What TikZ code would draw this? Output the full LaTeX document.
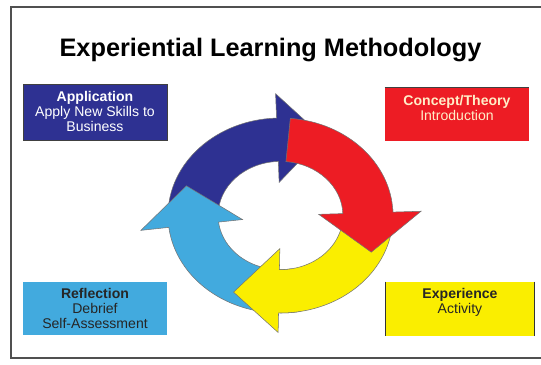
\documentclass[tikz,border=0pt]{standalone}
\usepackage{fontspec}
\setmainfont{Liberation Sans}
\usetikzlibrary{positioning}

\definecolor{appblue}{RGB}{46,49,146}
\definecolor{conceptred}{RGB}{237,28,36}
\definecolor{reflectblue}{RGB}{66,170,222}
\definecolor{expyellow}{RGB}{250,238,0}
\definecolor{cream}{RGB}{255,238,200}
\definecolor{framegray}{RGB}{80,80,80}

\begin{document}
\begin{tikzpicture}[
  box/.style={rectangle, minimum width=2.88cm, minimum height=1.06cm, inner sep=0pt},
  boxtext/.style={align=center, inner sep=0pt, font=\fontsize{8}{8.6}\selectfont},
  ring/.style={draw=black!55, line width=0.3pt}
]
\useasboundingbox (0,0) rectangle (10.82,7.30);
% frame
\draw[framegray, line width=0.9pt] (10.82,7.16) -- (0.22,7.16) -- (0.22,0.14) -- (10.82,0.14);

% title
\node[anchor=base, font=\bfseries\fontsize{14.4}{17}\selectfont] (title) at (5.41,6.17) {Experiential Learning Methodology};

% cycle arrows
\begin{scope}[shift={(5.61,2.99)}, xscale=2.25, yscale=1.95]
\filldraw[ring, fill=appblue] (180:1) arc[start angle=180, end angle=92, radius=1] -- (92:1.25) -- (65:0.89) -- (92:0.34) -- (92:0.555) arc[start angle=92, end angle=180, radius=0.555] -- cycle;
\filldraw[ring, fill=reflectblue] (-80:1) arc[start angle=-80, end angle=-173, radius=1] -- (-173:1.25) -- (-200:0.89) -- (-173:0.34) -- (-173:0.555) arc[start angle=-173, end angle=-80, radius=0.555] -- cycle;
\filldraw[ring, fill=expyellow] (4:1) arc[start angle=4, end angle=-91, radius=1] -- (-91:1.2) -- (-118:0.89) -- (-91:0.34) -- (-91:0.555) arc[start angle=-91, end angle=4, radius=0.555] -- cycle;
\filldraw[ring, fill=conceptred] (85:1) arc[start angle=85, end angle=2, radius=1] -- (2:1.25) -- (-25:0.89) -- (2:0.34) -- (2:0.555) arc[start angle=2, end angle=85, radius=0.555] -- cycle;
\end{scope}

% boxes
\node[box, fill=appblue, draw=black!75, minimum height=1.12cm] (app) at (1.90,5.06) {};
\node[boxtext, text=white, below=0.14cm of app.north] (apptext) {\textbf{Application}\\Apply New Skills to\\Business};

\node[box, fill=conceptred] (concept) at (9.14,5.01) {};
\draw[black!75] (concept.north west) -- (concept.north east);
\node[boxtext, text=cream, below=0.14cm of concept.north] (concepttext) {\textbf{Concept/Theory}\\Introduction};

\node[box, fill=reflectblue] (reflect) at (1.90,1.13) {};
\node[boxtext, text=black!85, below=0.12cm of reflect.north] (reflecttext) {\textbf{Reflection}\\Debrief\\Self-Assessment};

\node[box, fill=expyellow, minimum width=2.96cm, minimum height=1.08cm] (exp) at (9.20,1.12) {};
\draw[black!80, line width=0.8pt] (exp.north west) -- (exp.south west) (exp.north east) -- (exp.south east);
\node[boxtext, text=black!85, below=0.12cm of exp.north] (exptext) {\textbf{Experience}\\Activity};
\end{tikzpicture}
\end{document}
